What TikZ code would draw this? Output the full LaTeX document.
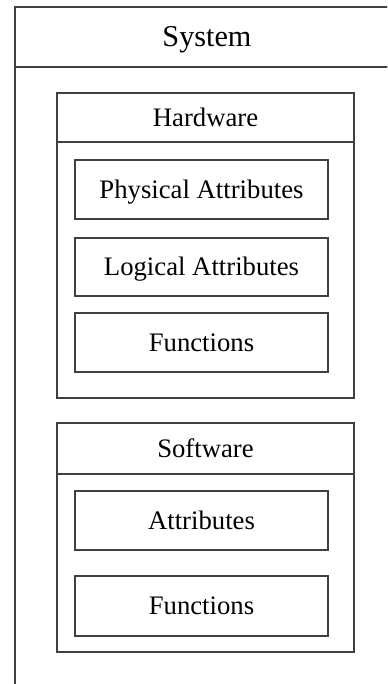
\documentclass[tikz,border=0pt]{standalone}
\usepackage{fontspec}
\setmainfont{Liberation Serif}
\usetikzlibrary{positioning}

\begin{document}
\begin{tikzpicture}[
node distance = 0mm,
every node/.style = {
	font = \fontsize{19}{22}\selectfont,
	inner sep = 0pt,
	outer sep = 0pt,
	text height = 12.6pt,
	text depth = 0pt
},
boxline/.style = {
	draw = black!75,
	line width = 0.9pt
},
systembox/.style = {
	boxline,
	minimum width = 9.6cm
},
partbox/.style = {
	boxline,
	minimum width = 7.425cm
},
itembox/.style = {
	boxline,
	minimum width = 6.325cm,
	minimum height = 1.475cm
}
]

\useasboundingbox (0,0) rectangle (9.675,-17.1);
\clip (0,0) rectangle (9.675,-17.1);

\node (systitle) [systembox, font=\fontsize{21.5}{25}\selectfont, text height=14.2pt, minimum height=1.5cm, anchor=north west] at (0.375,-0.175) {System};
\node (sysbody) [systembox, minimum height=17.5cm, below = of systitle] {};

\node (hwtitle) [partbox, minimum height=1.225cm, anchor=north west] at (1.425,-2.325) {Hardware};
\node (hwbody) [partbox, minimum height=6.4cm, below = of hwtitle] {};
\node (hwphys) [itembox, below right = 0.45cm and 0.45cm of hwtitle.south west] {Physical Attributes};
\node (hwlogic) [itembox, minimum height=1.45cm, below = 0.475cm of hwphys] {Logical Attributes};
\node (hwfunc) [itembox, below = 0.425cm of hwlogic] {Functions};

\node (swtitle) [partbox, minimum height=1.275cm, below = 0.625cm of hwbody] {Software};
\node (swbody) [partbox, minimum height=4.45cm, below = of swtitle] {};
\node (swattr) [itembox, below right = 0.425cm and 0.45cm of swtitle.south west] {Attributes};
\node (swfunc) [itembox, minimum height=1.5cm, below = 0.65cm of swattr] {Functions};

\end{tikzpicture}
\end{document}
